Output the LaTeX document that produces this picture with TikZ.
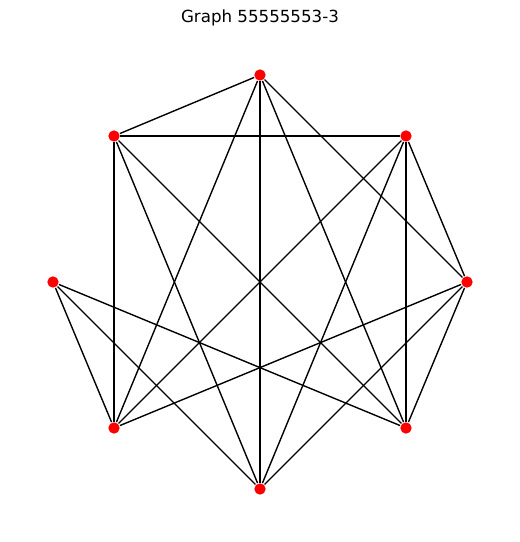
\documentclass[tikz,border=0pt]{standalone}
\usepackage{fontspec}
\setmainfont{DejaVu Sans}
\begin{document}
\begin{tikzpicture}[x=0.01in, y=-0.01in, line width=1bp]
    \useasboundingbox (0, 0) rectangle (519, 542);
    \tikzset{vertex/.style={circle, fill=red, inner sep=0pt, minimum size=8.2pt}}

    \node[font=\fontsize{12bp}{14bp}\selectfont] (title) at (260, 18) {Graph 55555553-3};

    \node[vertex] (N) at (260, 75) {};
    \node[vertex] (NE) at (406, 136) {};
    \node[vertex] (E) at (467, 282) {};
    \node[vertex] (SE) at (406, 428) {};
    \node[vertex] (S) at (260, 489) {};
    \node[vertex] (SW) at (114, 428) {};
    \node[vertex] (W) at (53, 282) {};
    \node[vertex] (NW) at (114, 136) {};

    % edges
    \draw (N) -- (NW);
    \draw (N) -- (SW);
    \draw (N) -- (S);
    \draw (N) -- (SE);
    \draw (N) -- (E);
    \draw (NW) -- (NE);
    \draw (NW) -- (SW);
    \draw (NW) -- (S);
    \draw (NW) -- (SE);
    \draw (NE) -- (SW);
    \draw (NE) -- (S);
    \draw (NE) -- (SE);
    \draw (NE) -- (E);
    \draw (W) -- (SW);
    \draw (W) -- (S);
    \draw (W) -- (SE);
    \draw (E) -- (SE);
    \draw (E) -- (S);
    \draw (E) -- (SW);

  \end{tikzpicture}
\end{document}
